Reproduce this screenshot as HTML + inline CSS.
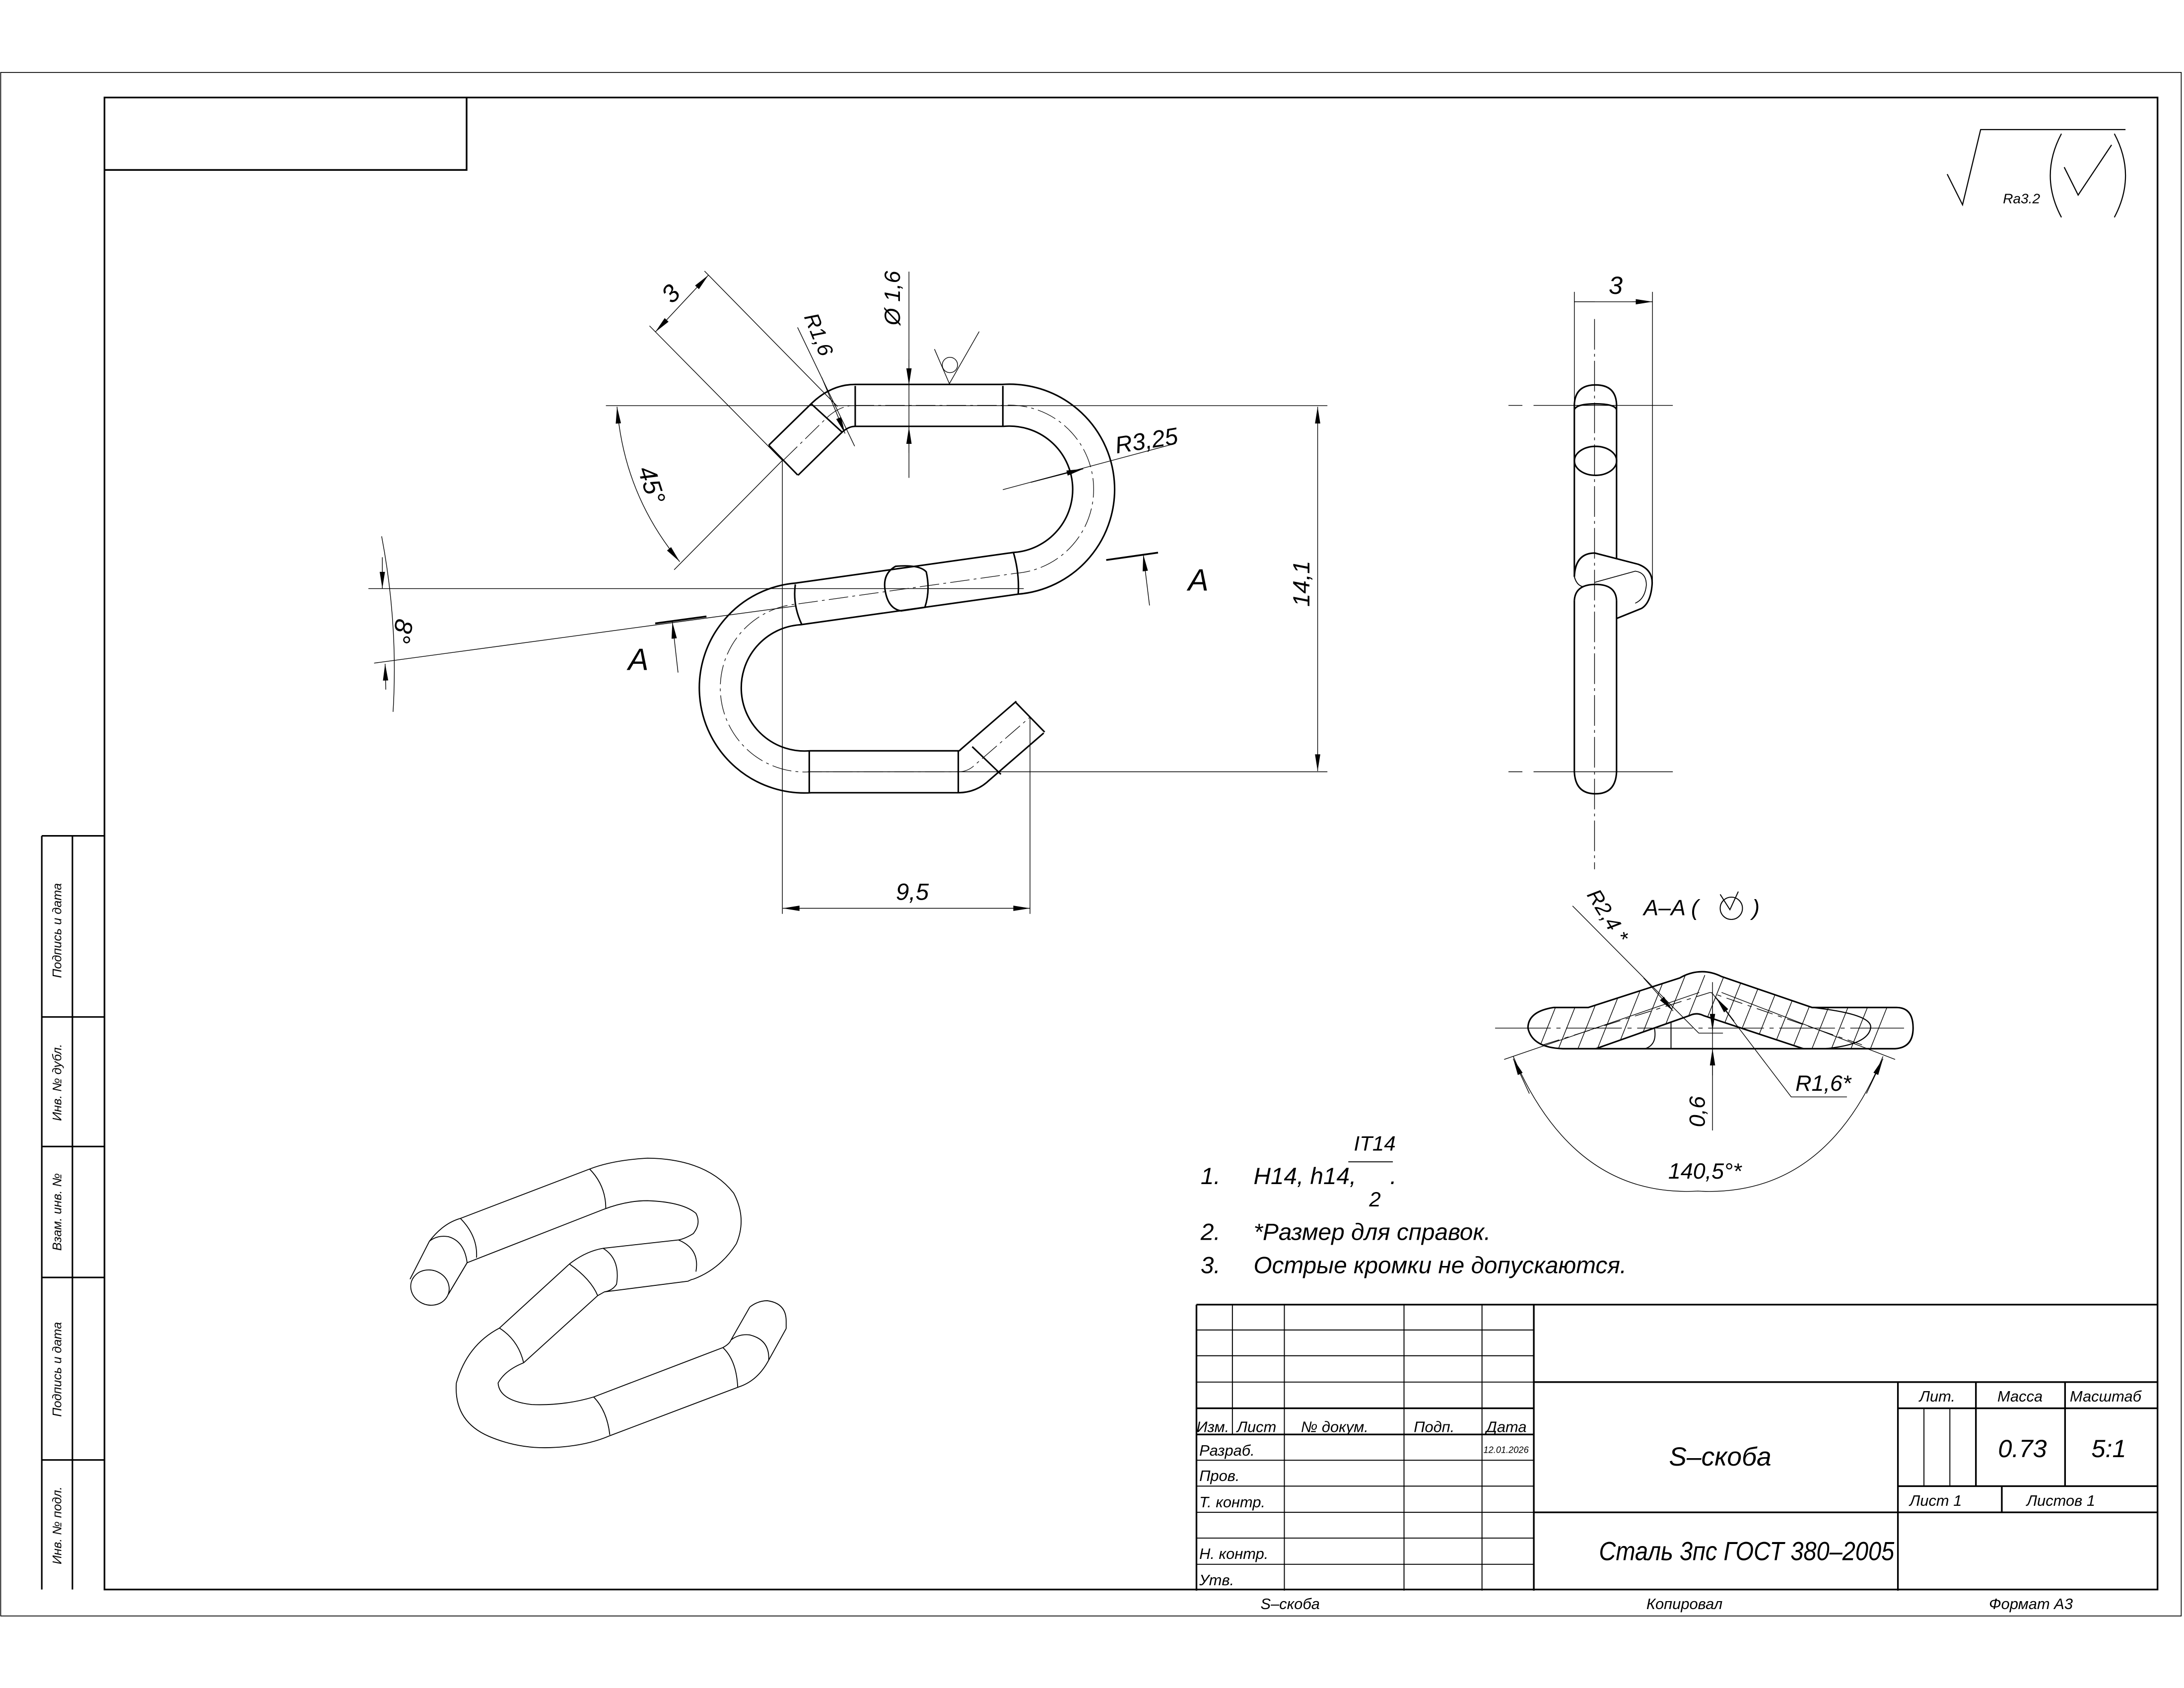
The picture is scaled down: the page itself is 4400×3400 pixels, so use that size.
<!DOCTYPE html>
<html><head><meta charset="utf-8"><style>
html,body{margin:0;padding:0;background:#fff}
svg{display:block}
text{font-family:"Liberation Sans",sans-serif;font-style:italic;fill:#000}
</style></head><body>
<svg width="4400" height="3400" viewBox="0 0 1568 1211.7" preserveAspectRatio="none" xmlns="http://www.w3.org/2000/svg">
<defs>
<marker id="ar" viewBox="-13 -3 14 6" refX="0" refY="0" markerWidth="14" markerHeight="6" markerUnits="userSpaceOnUse" orient="auto-start-reverse">
<path d="M0,0 L-12,-1.9 L-12,1.9Z" fill="#000"/></marker>
<clipPath id="secclip"><path clip-rule="evenodd" d="M1122,752.8 L1360.6,752.8 Q1373.5,752 1373.5,738 Q1373.5,723.2 1361.6,723.2 L1301,723.2 L1236,701 Q1228,697 1220,697.6 Q1213,698 1206,702 L1140.3,723.2 L1115.5,723.2 Q1097,726 1097,738 Q1100,752 1122,752.8 Z M1145.7,752.8 L1213,729 Q1218,726.5 1223,729 L1294.7,752.8 Z"/></clipPath>
</defs>
<rect width="1568" height="1211.7" fill="#fff"/>
<g fill="none" stroke="#000">
<!-- frames -->
<rect x="0.5" y="52" width="1565.5" height="1108" stroke-width="0.6"/>
<rect x="75" y="70" width="1474" height="1071" stroke-width="1.2"/>
<path d="M75,122 H335 V70" stroke-width="1.2"/>
<!-- left stamp -->
<path d="M30,600 V1141 M52,600 V1141 M30,600 H75 M30,730 H75 M30,823 H75 M30,917 H75 M30,1048 H75" stroke-width="1.1"/>
<!-- title block -->
<g stroke-width="1.2">
<path d="M859,936.5 H1549.5 M859,936.5 V1141.8 M1101.2,936.5 V1141.8 M859,1010.9 H1101.2 M859,1029.7 H1101.2 M1101.2,992.1 H1549.5 M1101.2,1085.6 H1549.5 M1362.6,992.1 V1141.8 M1362.6,1010.9 H1549.5 M1362.6,1066.8 H1549.5 M1418.6,992.1 V1066.8 M1482.6,992.1 V1066.8 M1437.2,1066.8 V1085.6"/>
</g>
<g stroke-width="0.7">
<path d="M884.8,936.5 V1029.7 M922.1,936.5 V1141.8 M1008,936.5 V1141.8 M1064,936.5 V1141.8 M859,954.7 H1101.2 M859,973.2 H1101.2 M859,992.1 H1101.2 M859,1048.2 H1101.2 M859,1066.8 H1101.2 M859,1085.6 H1101.2 M859,1104.1 H1101.2 M859,1122.9 H1101.2 M1381.3,1010.9 V1066.8 M1399.9,1010.9 V1066.8"/>
</g>
<!-- roughness top right -->
<path d="M1398,125 L1409,147 L1422,93 H1526" stroke-width="0.8"/>
<path d="M1482,120 L1492,140 L1516,104" stroke-width="0.8"/>
<path d="M1480,96 Q1464,126 1480,156 M1518,96 Q1534,126 1518,156" stroke-width="0.8"/>

<!-- ===== MAIN VIEW ===== -->
<path id="cl" d="M562.4,330.4 L593.5,300 Q603,291 614,291 L720,291 A60,60 0 0 1 729.5,411.5 L573,433.5 A60,60 0 0 0 582,554 L688,554 Q695,554 700,549 L739.5,514.8" stroke-width="31.2" stroke-linejoin="round"/>
<path d="M562.4,330.4 L593.5,300 Q603,291 614,291 L720,291 A60,60 0 0 1 729.5,411.5 L573,433.5 A60,60 0 0 0 582,554 L688,554 Q695,554 700,549 L739.5,514.8" stroke="#fff" stroke-width="29" stroke-linejoin="round"/>
<path d="M562.4,330.4 L593.5,300 Q603,291 614,291 L720,291 A60,60 0 0 1 729.5,411.5 L573,433.5 A60,60 0 0 0 582,554 L688,554 Q695,554 700,549 L739.5,514.8" stroke-width="0.45" stroke-dasharray="14 3 2 3"/>
<g stroke-width="1.1">
<path d="M552,319.7 L572.7,341 M582,289.5 L605,310.6 M614,277 V306 M720,277 V306 M581,539 V569 M688,539 V569 M698,536 L718.6,555.8 M729,504 L750,525.5"/>
<path d="M571,419.5 Q569,434 575.5,448 M727.7,397 Q732,412 731,426.6"/>
<path d="M643,406.5 Q633,412 635.7,425 Q638,437 647,438.5 L664,436 Q668,424 665,410.5 Q660,405 643,406.5Z"/>
</g>
<!-- main view dims / construction (thin) -->
<g stroke-width="0.5">
<path d="M435,291.2 H953 M580,554 H953 M264.5,422.5 H735 M561.7,330.5 V656 M739.5,515 V656"/>
<path d="M484,409 L561.7,330.5 M466.3,233.9 L561.7,330.5 M505.8,194.6 L601.3,291.8"/>
<path d="M470.4,238.4 L508.6,197.5" marker-start="url(#ar)" marker-end="url(#ar)"/>
<path d="M443,292 Q448,355 488,403.2" marker-start="url(#ar)" marker-end="url(#ar)"/>
<path d="M572.6,235 L613.6,320.3"/>
<path d="M590,271 L606.7,311.2" marker-end="url(#ar)"/>
<path d="M652.6,195 V343"/>
<path d="M652.6,258 V276.4" marker-end="url(#ar)"/>
<path d="M652.6,325 V306.6" marker-end="url(#ar)"/>
<path d="M268.6,476 L571.3,435"/>
<path d="M274,385 Q286,448 282.2,511"/>
<path d="M274.5,400 L274.5,422.5" marker-end="url(#ar)"/>
<path d="M277,495 L276.5,476.5" marker-end="url(#ar)"/>
<path d="M486.8,482.8 L482.7,446.4" marker-end="url(#ar)"/>
<path d="M825.3,434.6 L820.8,398" marker-end="url(#ar)"/>
<path d="M720,351.5 L844,318.3"/>
<path d="M740,346.3 L777.7,336.6" marker-end="url(#ar)"/>
<path d="M946,292 V553.5" marker-start="url(#ar)" marker-end="url(#ar)"/>
<path d="M562,652 H739.5" marker-start="url(#ar)" marker-end="url(#ar)"/>
<path d="M670.9,250.6 L681.6,275.4 L703,238"/>
<circle cx="682" cy="262" r="5.5"/>
</g>
<path d="M470.4,447.5 L507.2,442.5 M794.2,402 L831.4,396.7" stroke-width="1.3"/>

<!-- ===== SIDE VIEW ===== -->
<g stroke-width="1.1">
<path d="M1130.3,290 V414 M1160.6,290 V401.3 M1130.3,431 V554 M1160.6,431 V554"/>
<path d="M1130.3,290.2 Q1131,276.3 1145.5,276.3 Q1160,276.3 1160.6,290.2"/>
<path d="M1130.3,294 Q1132,289.9 1145.5,289.9 Q1159,289.9 1160.6,294"/>
<ellipse cx="1145.5" cy="330.8" rx="15.15" ry="10.4"/>
<path d="M1130.3,554 Q1131,569.8 1145.5,569.8 Q1160,569.8 1160.6,554"/>
<path d="M1130.3,414 Q1131,397 1145,397 L1176,405 Q1187,409 1186.1,419.8 Q1185,433 1178.4,436.8 L1160.6,444"/>
<path d="M1130.3,431 Q1131,419.5 1145.5,419.5 Q1160,419.5 1160.6,431"/>
<path d="M1130.3,414 Q1132,420 1136,421" stroke-width="0.7"/>
<path d="M1145,418 L1174,410 Q1182,411 1182,420 Q1181,430 1174,433" stroke-width="0.6"/>
</g>
<g stroke-width="0.5">
<path d="M1130.3,209.5 V290 M1186.4,209.5 V417"/>
<path d="M1145,216.6 H1130.3 M1172,216.6 H1186.4" marker-end="url(#ar)"/>
<path d="M1130.3,216.6 H1186.4"/>
<path d="M1144.8,229 V624" stroke-dasharray="22 3 2 3"/>
<path d="M1083,291 H1207 M1083,554 H1207" stroke-dasharray="10 8 100 8 10 8"/>
</g>

<!-- ===== SECTION A-A ===== -->
<g clip-path="url(#secclip)" stroke-width="0.5">
<path d="M1090,790 l36,-90 M1104,790 l36,-90 M1118,790 l36,-90 M1132,790 l36,-90 M1146,790 l36,-90 M1160,790 l36,-90 M1174,790 l36,-90 M1188,790 l36,-90 M1202,790 l36,-90 M1216,790 l36,-90 M1230,790 l36,-90 M1244,790 l36,-90 M1258,790 l36,-90 M1272,790 l36,-90 M1286,790 l36,-90 M1300,790 l36,-90 M1314,790 l36,-90 M1328,790 l36,-90"/>
</g>
<g stroke-width="1.1">
<path d="M1122,752.8 L1360.6,752.8 Q1373.5,752 1373.5,738 Q1373.5,723.2 1361.6,723.2 L1301,723.2 L1236,701 Q1228,697 1220,697.6 Q1213,698 1206,702 L1140.3,723.2 L1115.5,723.2 Q1097,726 1097,738 Q1100,752 1122,752.8 Z"/>
<path d="M1145.7,752.8 L1213,729 Q1218,726.5 1223,729 L1294.7,752.8"/>
<path d="M1301,723.2 Q1345,728 1343,738 Q1341,750 1310,752.8" stroke-width="0.8"/>
<path d="M1187.8,738 Q1190,750 1181,752.8 M1199.7,733.9 V752.8" stroke-width="0.7"/>
</g>
<g stroke-width="0.5">
<path d="M1108,750 L1227.8,712.4 L1336.8,750" stroke-dasharray="12 4 3 4"/>
<path d="M1073.4,738 H1367" stroke-dasharray="40 4 3 4"/>
<path d="M1229.5,705 V811.5"/>
<path d="M1229.5,722 V739.8" marker-end="url(#ar)"/>
<path d="M1229.5,772 V752.8" marker-end="url(#ar)"/>
<path d="M1219.5,741.6 H1237"/>
<path d="M1129,650.3 L1219.6,741.6"/>
<path d="M1180,702 L1201.2,725.7" marker-end="url(#ar)"/>
<path d="M1326,787.4 H1286 L1228.9,712.4"/>
<path d="M1245,733 L1232,716" marker-end="url(#ar)"/>
<path d="M1079.9,760.5 L1220,712.4 M1360.6,760.5 L1236,712.4"/>
<path d="M1086.4,758.3 Q1130,860 1219,855 Q1310,860 1351.9,758.3"/>
<path d="M1098,785 L1086.4,760" marker-end="url(#ar)"/>
<path d="M1340,785 L1351.9,760" marker-end="url(#ar)"/>
</g>

<!-- ===== ISO VIEW ===== -->
<g transform="translate(285.1,801.9) scale(0.1933,0.1818)" stroke-width="1.8" vector-effect="non-scaling-stroke">
<g vector-effect="non-scaling-stroke">
<path vector-effect="non-scaling-stroke" d="M120,490 Q170,420 235,400 L715,205 Q800,170 930,162 Q1150,165 1250,300 Q1300,400 1260,500 Q1200,600 1100,640"/>
<path vector-effect="non-scaling-stroke" d="M190,700 L260,575 L765,365 Q850,330 930,330 Q1060,335 1110,380 Q1130,420 1100,460 Q1070,480 1045,485"/>
<ellipse vector-effect="non-scaling-stroke" cx="122" cy="673" rx="73" ry="68" transform="rotate(35 122 673)"/>
<path vector-effect="non-scaling-stroke" d="M120,490 L48,640 M260,575 L190,700"/>
<path vector-effect="non-scaling-stroke" d="M120,490 Q150,465 190,472 Q250,490 260,575"/>
<path vector-effect="non-scaling-stroke" d="M235,400 Q300,470 295,555 M715,205 Q775,270 775,360"/>
<path vector-effect="non-scaling-stroke" d="M640,580 Q700,530 765,518 L1045,485 M770,690 L1080,648 Q1095,640 1100,640"/>
<path vector-effect="non-scaling-stroke" d="M1045,485 Q1125,520 1110,610 M765,518 Q830,560 815,660 Q800,685 770,690 M640,580 Q720,640 745,705"/>
<path vector-effect="non-scaling-stroke" d="M640,580 L380,833 M770,690 L745,705 L470,970"/>
<path vector-effect="non-scaling-stroke" d="M380,833 Q260,900 220,1050 Q210,1200 340,1260 Q450,1310 570,1305 Q700,1300 790,1258"/>
<path vector-effect="non-scaling-stroke" d="M470,970 Q400,1000 375,1050 Q380,1120 500,1135 Q620,1140 730,1105"/>
<path vector-effect="non-scaling-stroke" d="M380,833 Q450,880 470,970 M730,1105 Q780,1160 790,1255"/>
<path vector-effect="non-scaling-stroke" d="M730,1105 L1210,910 Q1235,895 1240,880 M790,1258 L1270,1065 Q1340,1040 1380,960"/>
<path vector-effect="non-scaling-stroke" d="M1240,880 L1310,750 M1380,960 L1445,835"/>
<path vector-effect="non-scaling-stroke" d="M1310,750 Q1340,725 1375,725 Q1445,735 1445,805 Q1445,825 1445,835"/>
<path vector-effect="non-scaling-stroke" d="M1240,880 Q1270,855 1310,860 Q1385,880 1380,960"/>
<path vector-effect="non-scaling-stroke" d="M1210,910 Q1260,960 1265,1065"/>
</g>
</g>
</g>

<!-- ===== TEXT ===== -->
<g font-size="18">
<text transform="translate(486,215) rotate(-47)" text-anchor="middle">3</text>
<text transform="translate(583,242) rotate(68)" font-size="15" text-anchor="middle">R1,6</text>
<text transform="translate(646,214) rotate(-90)" font-size="16" text-anchor="middle">Ø 1,6</text>
<text transform="translate(462,350) rotate(72)" text-anchor="middle">45°</text>
<text transform="translate(283,452) rotate(100)" text-anchor="middle">8°</text>
<text x="451" y="481" font-size="22">A</text>
<text x="853" y="424" font-size="22">A</text>
<text transform="translate(824,322) rotate(-9)" text-anchor="middle" font-size="17">R3,25</text>
<text transform="translate(940,419) rotate(-90)" text-anchor="middle" font-size="17">14,1</text>
<text x="655" y="646" text-anchor="middle" font-size="17">9,5</text>
<text x="1160" y="211" text-anchor="middle" font-size="18">3</text>
<text x="1180" y="657" font-size="16">A–A (</text>
<text x="1258" y="657" font-size="16">)</text>
<text transform="translate(1150,660) rotate(58)" text-anchor="middle" font-size="15">R2,4 *</text>
<text x="1289" y="783" font-size="16">R1,6*</text>
<text transform="translate(1224,798) rotate(-90)" text-anchor="middle" font-size="16">0,6</text>
<text x="1224" y="846" text-anchor="middle" font-size="16">140,5°*</text>
<text x="1438" y="146" font-size="10">Ra3.2</text>
</g>
<g fill="none" stroke="#000" stroke-width="0.7">
<circle cx="1243" cy="652" r="8"/><path d="M1235,642 L1242,653 L1248,640"/>
</g>
<!-- notes -->
<g font-size="17">
<text x="862" y="850">1.</text>
<text x="900" y="850">H14, h14,</text>
<text x="972" y="826" font-size="15">IT14</text>
<text x="983" y="866" font-size="15">2</text>
<text x="998" y="850">.</text>
<text x="862" y="890">2.</text>
<text x="900" y="890">*Размер для справок.</text>
<text x="862" y="914">3.</text>
<text x="900" y="914">Острые кромки не допускаются.</text>
</g>
<path d="M968,834 H1000" stroke="#000" stroke-width="0.7"/>
<!-- left stamp text -->
<g font-size="9" text-anchor="middle">
<text transform="translate(44,668) rotate(-90)">Подпись и дата</text>
<text transform="translate(44,777) rotate(-90)">Инв. № дубл.</text>
<text transform="translate(44,870) rotate(-90)">Взам. инв. №</text>
<text transform="translate(44,983) rotate(-90)">Подпись и дата</text>
<text transform="translate(44,1095) rotate(-90)">Инв. № подл.</text>
</g>
<!-- title block text -->
<g font-size="11">
<text x="859" y="1028">Изм.</text>
<text x="888" y="1028">Лист</text>
<text x="934" y="1028">№ докум.</text>
<text x="1015" y="1028">Подп.</text>
<text x="1067" y="1028">Дата</text>
<text x="861" y="1045">Разраб.</text>
<text x="1065" y="1043" font-size="6.5">12.01.2026</text>
<text x="861" y="1063">Пров.</text>
<text x="861" y="1082">Т. контр.</text>
<text x="861" y="1119">Н. контр.</text>
<text x="861" y="1138">Утв.</text>
<text x="1378" y="1006">Лит.</text>
<text x="1434" y="1006">Масса</text>
<text x="1486" y="1006">Масштаб</text>
<text x="1371" y="1081">Лист 1</text>
<text x="1455" y="1081">Листов 1</text>
<text x="905" y="1155">S–скоба</text>
<text x="1182" y="1155">Копировал</text>
<text x="1428" y="1155">Формат А3</text>
</g>
<text x="1235" y="1052" font-size="19" text-anchor="middle">S–скоба</text>
<text x="1452" y="1046" font-size="18" text-anchor="middle">0.73</text>
<text x="1514" y="1046" font-size="18" text-anchor="middle">5:1</text>
<text x="1148" y="1120" font-size="19" textLength="212" lengthAdjust="spacingAndGlyphs">Сталь 3пс ГОСТ 380–2005</text>
</svg>
</body></html>
